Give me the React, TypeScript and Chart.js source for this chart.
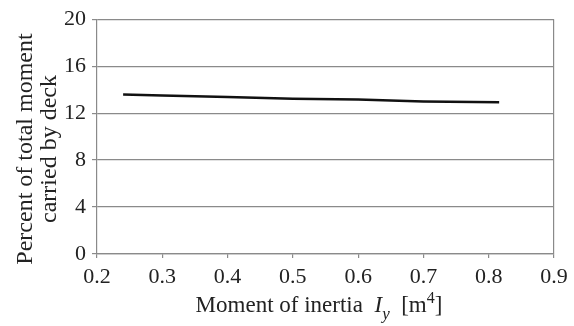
import React, { useEffect, useRef } from "react";
import { Chart, registerables } from "chart.js";

Chart.register(...registerables);

const inertiaValues = [0.24, 0.3, 0.4, 0.5, 0.6, 0.7, 0.816];
const deckPercent = [13.58, 13.5, 13.38, 13.22, 13.15, 12.98, 12.92];
const yTitleLines = ["Percent of total moment", "carried by deck"];
const xTitleMain = "Moment of inertia";

const FONT = '"Liberation Serif", "Times New Roman", serif';
const TEXT = "#222";
const GRID = "#8a8a8a";

const titlePlugin = {
  id: "titles",
  afterDraw(chart: any) {
    const ctx = chart.ctx;
    ctx.save();
    ctx.fillStyle = TEXT;
    const size = 23;
    const reg = `${size}px ${FONT}`;
    const ital = `italic ${size}px ${FONT}`;
    const small = `${Math.round(size * 0.7)}px ${FONT}`;
    const smallItal = `italic ${Math.round(size * 0.75)}px ${FONT}`;
    const parts: [string, string, number][] = [
      [xTitleMain + "  ", reg, 0],
      ["I", ital, 0],
      ["y", smallItal, 7],
      ["  [m", reg, 0],
      ["4", small, -9],
      ["]", reg, 0],
    ];
    let total = 0;
    for (const p of parts) {
      ctx.font = p[1];
      total += ctx.measureText(p[0]).width;
    }
    let x = 319 - total / 2;
    const baseY = 312;
    ctx.textBaseline = "alphabetic";
    ctx.textAlign = "left";
    for (const p of parts) {
      ctx.font = p[1];
      ctx.fillText(p[0], x, baseY + p[2]);
      x += ctx.measureText(p[0]).width;
    }
    ctx.font = `24px ${FONT}`;
    ctx.textAlign = "center";
    ctx.textBaseline = "middle";
    ctx.translate(0, 149);
    ctx.rotate(-Math.PI / 2);
    ctx.fillText(yTitleLines[0], 0, 26);
    ctx.fillText(yTitleLines[1], 0, 50);
    ctx.restore();
  },
};

export default function App() {
  const ref = useRef<HTMLCanvasElement>(null);
  useEffect(() => {
    if (!ref.current) return;
    const chart = new Chart(ref.current, {
      type: "line",
      data: {
        datasets: [
          {
            data: inertiaValues.map((v, i) => ({ x: v, y: deckPercent[i] })),
            borderColor: "#111",
            borderWidth: 2.5,
            pointRadius: 0,
            fill: false,
            tension: 0,
          },
        ],
      },
      options: {
        animation: false,
        responsive: true,
        maintainAspectRatio: false,
        layout: { padding: { top: 16, right: 20, left: 0, bottom: 0 } },
        plugins: { legend: { display: false }, tooltip: { enabled: false } },
        scales: {
          x: {
            type: "linear",
            min: 0.2,
            max: 0.9,
            afterFit: (s: any) => {
              s.height = 72;
            },
            ticks: {
              stepSize: 0.1,
              callback: (v: any) => Number(v).toFixed(1),
              font: { family: FONT, size: 22 },
              color: TEXT,
              padding: 6,
              maxRotation: 0,
            },
            grid: {
              drawOnChartArea: true,
              color: (c: any) =>
                c.tick && Math.abs(c.tick.value - 0.9) < 1e-6 ? GRID : "rgba(0,0,0,0)",
              tickColor: GRID,
              tickLength: 4,
              lineWidth: 1.2,
            },
            border: { display: true, color: GRID, width: 1.2 },
          },
          y: {
            type: "linear",
            min: 0,
            max: 20,
            afterFit: (s: any) => {
              s.width = 97;
            },
            ticks: {
              stepSize: 4,
              font: { family: FONT, size: 22 },
              color: TEXT,
              padding: 6,
            },
            grid: {
              color: GRID,
              tickColor: GRID,
              tickLength: 5,
              lineWidth: 1.2,
            },
            border: { display: true, color: GRID, width: 1.2 },
          },
        },
      },
      plugins: [titlePlugin],
    } as any);
    return () => chart.destroy();
  }, []);
  return (
    <div style={{ position: "absolute", left: 0, top: 0, width: 574, height: 326, background: "#fff" }}>
      <canvas ref={ref} />
    </div>
  );
}
